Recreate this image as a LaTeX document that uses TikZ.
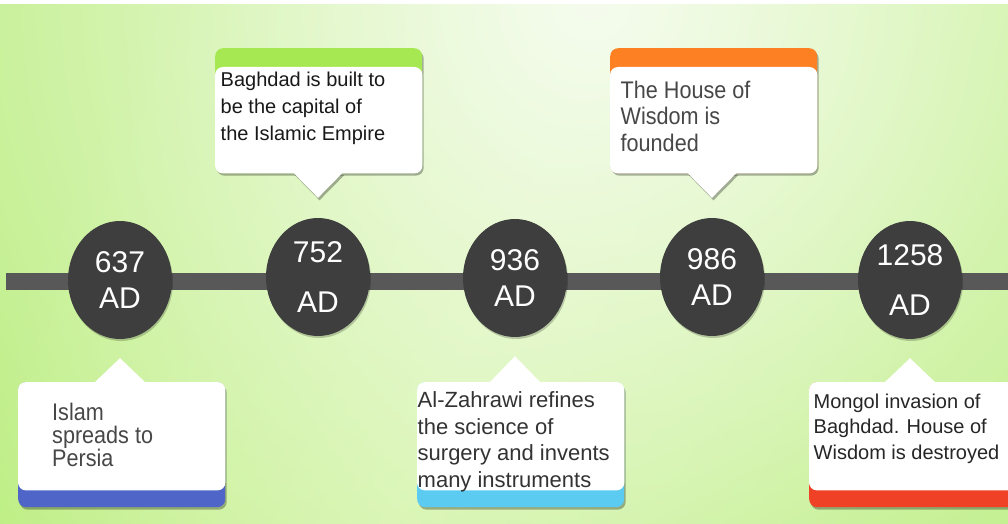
\documentclass[tikz,border=0pt]{standalone}
\usepackage{fontspec}
\setmainfont{Liberation Sans}
\newfontfamily\narrowfont[FakeStretch=0.9]{Liberation Sans}
\usetikzlibrary{shapes.geometric,shadows,fadings,calc}

\definecolor{bggreen}{HTML}{B4EC72}
\definecolor{bgmid}{HTML}{CAF294}
\definecolor{bglight}{HTML}{F5FCEE}
\definecolor{bargray}{HTML}{585858}
\definecolor{circlegray}{HTML}{3E3E3E}
\definecolor{bandgreen}{HTML}{A6E852}
\definecolor{bandorange}{HTML}{FD8023}
\definecolor{bandblue}{HTML}{4F66C8}
\definecolor{bandsky}{HTML}{5BCBF1}
\definecolor{bandred}{HTML}{EE4125}

\tikzfading[name=glowfade, inner color=transparent!0, outer color=transparent!100]

\tikzset{
  timeline/.style={draw=bargray, line width=17pt},
  yearcircle/.style={ellipse, fill=circlegray, text=white, align=center,
    minimum width=104pt, minimum height=118pt, inner sep=0pt,
    drop shadow={shadow xshift=1pt, shadow yshift=-2pt, opacity=.2, fill=black}},
  boxshadow/.style={drop shadow={shadow xshift=1.5pt, shadow yshift=-2.5pt, opacity=.3, fill=black}},
  band/.style={rectangle, rounded corners=8pt, inner sep=0pt, boxshadow,
    minimum width=207pt, minimum height=125pt, anchor=north west},
  body/.style={fill=white, rounded corners=8pt},
  pointer/.style={fill=white, boxshadow},
  eventtext/.style={anchor=north west, align=left, inner sep=0pt},
}

\begin{document}
\begin{tikzpicture}[x=1pt, y=-1pt]
\useasboundingbox (0,0) rectangle (1008,524);

% Background
\fill[white] (0,0) rectangle (1008,524);
\begin{scope}
  \clip (0,5) rectangle (1008,524);
  \shade[left color=bggreen, right color=bggreen, middle color=bgmid, shading angle=66]
    (0,5) rectangle (1008,524);
  \fill[bglight, path fading=glowfade] (590,0) circle (900);
\end{scope}

% Timeline bar
\coordinate (tlstart) at (6,281.5);
\coordinate (tlend) at (1008,281.5);
\draw[timeline] (tlstart) -- (tlend);

% Years
\foreach \yr/\x/\y/\gap in {637/120/280/36, 752/318/277/50, 936/515/278/36,
                            986/712/277/36, 1258/910/280/50}
  \node[yearcircle, font=\fontsize{30}{\gap}\selectfont] (y\yr) at (\x,\y) {\yr\\AD};

% 752: callout above
\node[band, fill=bandgreen] (c752) at (215,48) {};
\fill[body] ([yshift=-19pt]c752.north west) rectangle (c752.south east);
\coordinate (p752) at ([yshift=20pt]y752.north);
\fill[pointer] (p752) -- ($(p752 |- c752.south)+(-25,-1)$) -- ($(p752 |- c752.south)+(25,-1)$) -- cycle;
\node[eventtext, font=\fontsize{20}{27}\selectfont, text=black!90] (t752) at (220.5,71.5)
  {Baghdad is built to\\be the capital of\\the Islamic Empire};

% 986: callout above
\node[band, fill=bandorange] (c986) at (610,48) {};
\fill[body] ([yshift=-19pt]c986.north west) rectangle (c986.south east);
\coordinate (p986) at ([yshift=20pt]y986.north);
\fill[pointer] (p986) -- ($(p986 |- c986.south)+(-25,-1)$) -- ($(p986 |- c986.south)+(25,-1)$) -- cycle;
\node[eventtext, font=\narrowfont\fontsize{24}{26.5}\selectfont, text=black!72] (t986) at (620.5,80.5)
  {The House of\\Wisdom is\\founded};

% 637: callout below
\coordinate (p637) at ([yshift=-19pt]y637.south);
\fill[pointer] (p637) -- ($(p637 |- 0,382)+(-26,1)$) -- ($(p637 |- 0,382)+(26,1)$) -- cycle;
\node[band, fill=bandblue] (c637) at (18,382) {};
\fill[body] (c637.north west) rectangle ([yshift=17pt]c637.south east);
\node[eventtext, font=\narrowfont\fontsize{24}{23}\selectfont, text=black!72] (t637) at (52,403)
  {Islam\\spreads to\\Persia};

% 936: callout below
\coordinate (p936) at ([yshift=-19pt]y936.south);
\fill[pointer] (p936) -- ($(p936 |- 0,382)+(-26,1)$) -- ($(p936 |- 0,382)+(26,1)$) -- cycle;
\node[band, fill=bandsky] (c936) at (417,382) {};
\fill[body] (c936.north west) rectangle ([yshift=17pt]c936.south east);
\node[eventtext, font=\fontsize{22}{26.5}\selectfont, text=black!80] (t936) at (417.5,391.5)
  {Al-Zahrawi refines\\the science of\\surgery and invents\\many instruments};

% 1258: callout below
\coordinate (p1258) at ([yshift=-19pt]y1258.south);
\fill[pointer] (p1258) -- ($(p1258 |- 0,382)+(-26,1)$) -- ($(p1258 |- 0,382)+(26,1)$) -- cycle;
\node[band, fill=bandred, minimum width=221pt] (c1258) at (809,382) {};
\fill[body] (c1258.north west) rectangle ([yshift=17pt]c1258.south east);
\node[eventtext, font=\fontsize{20}{25.5}\selectfont, text=black!85] (t1258) at (813.5,393.5)
  {Mongol invasion of\\Baghdad. House of\\Wisdom is destroyed};
\end{tikzpicture}
\end{document}
